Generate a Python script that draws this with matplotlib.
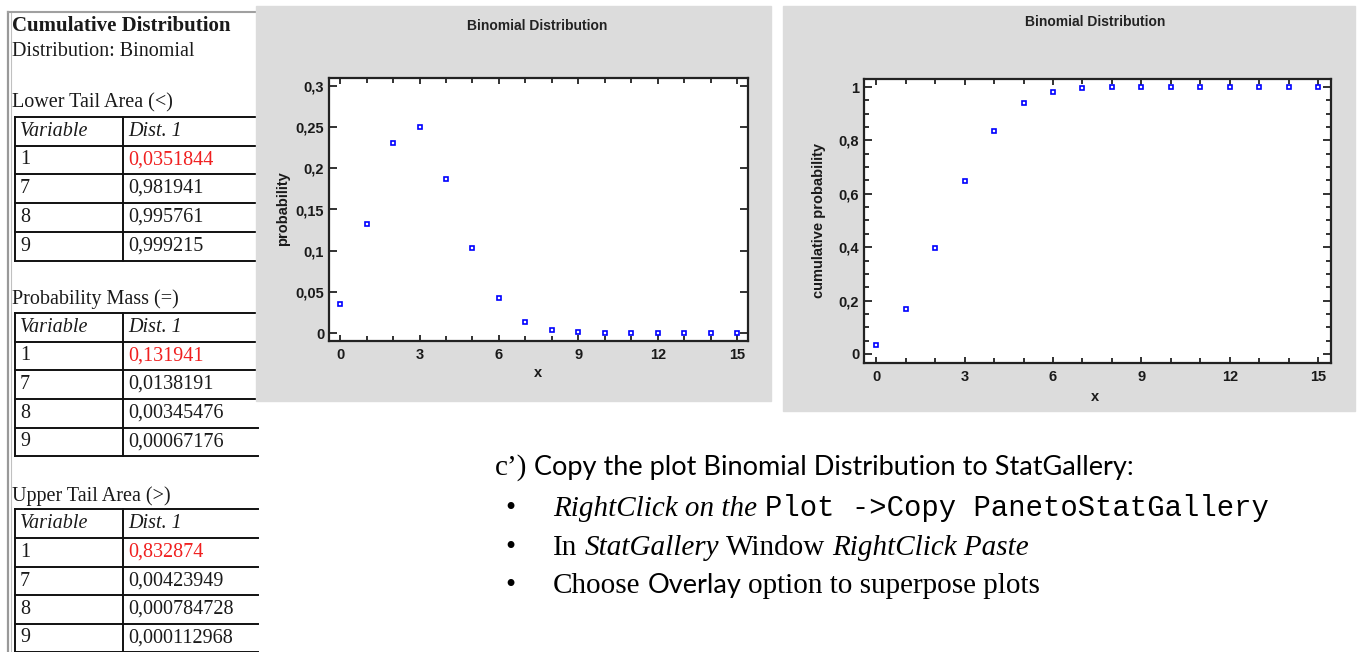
import matplotlib
matplotlib.use("Agg")
import matplotlib.pyplot as plt
from matplotlib.patches import Rectangle
from matplotlib.ticker import MultipleLocator, FuncFormatter

W, H = 1357, 652

# ---- data ----
x_vals = list(range(16))
pmf = [0.0352, 0.1319, 0.2309, 0.2501, 0.1876, 0.1032, 0.0430, 0.0138,
       0.0035, 0.0007, 0.0001, 0.0, 0.0, 0.0, 0.0, 0.0]
cdf = [0.0352, 0.1671, 0.3980, 0.6482, 0.8358, 0.9389, 0.9819, 0.9958,
       0.9992, 0.9999, 1.0, 1.0, 1.0, 1.0, 1.0, 1.0]

table_vars = ['1', '7', '8', '9']
lower_vals = ['0,0351844', '0,981941', '0,995761', '0,999215']
mass_vals = ['0,131941', '0,0138191', '0,00345476', '0,00067176']
upper_vals = ['0,832874', '0,00423949', '0,000784728', '0,000112968']

SERIF = 'Liberation Serif'
SANS = 'Liberation Sans'
MONO = 'Liberation Mono'
CALI = 'Lato'
PANEL = '#dcdcdc'

fig = plt.figure(figsize=(W / 100, H / 100), dpi=100)
ax0 = fig.add_axes([0, 0, 1, 1])
ax0.set_xlim(0, W)
ax0.set_ylim(H, 0)
ax0.axis('off')
ax0.set_zorder(0)


def px_axes(l, t, r, b):
    a = fig.add_axes([l / W, 1 - b / H, (r - l) / W, (b - t) / H])
    a.set_zorder(2)
    return a


def comma(v, pos):
    s = '{:g}'.format(round(v, 6))
    return s.replace('.', ',')


# ---- left frame with the tables ----
ax0.plot([8, 8], [12, H], color='#999999', lw=1.6)
ax0.plot([10.5, 10.5], [12, H], color='#c0c0c0', lw=0.8)
ax0.plot([8, 258], [12, 12], color='#a0a0a0', lw=1.5)

tc = '#1a1a1a'
ax0.text(12, 26, 'Cumulative Distribution', fontsize=15, fontweight='bold',
         family=SERIF, va='center', color=tc)
ax0.text(12, 52, 'Distribution: Binomial', fontsize=14.5, family=SERIF,
         va='center', color=tc)


def draw_table(label, label_y, lines, vals):
    ax0.text(12, label_y, label, fontsize=14.5, family=SERIF, va='center', color=tc)
    top, bot = lines[0], lines[-1]
    for y in lines:
        ax0.plot([15, 258], [y, y], color='#111111', lw=1.4)
    for x in (15, 123):
        ax0.plot([x, x], [top, bot], color='#111111', lw=1.4)
    cy = (lines[0] + lines[1]) / 2
    ax0.text(20, cy, 'Variable', fontsize=14.5, family=SERIF, style='italic',
             va='center', color=tc)
    ax0.text(128, cy, 'Dist. 1', fontsize=14.5, family=SERIF, style='italic',
             va='center', color=tc)
    for i, (v, val) in enumerate(zip(table_vars, vals)):
        cy = (lines[i + 1] + lines[i + 2]) / 2
        ax0.text(20, cy, v, fontsize=14.5, family=SERIF, va='center', color=tc)
        ax0.text(128, cy, val, fontsize=14.5, family=SERIF, va='center',
                 color='#f02020' if i == 0 else tc)


draw_table('Lower Tail Area (<)', 103, [117, 146, 174, 203, 232, 261], lower_vals)
draw_table('Probability Mass (=)', 299, [313, 342, 370, 399, 428, 456], mass_vals)
draw_table('Upper Tail Area (>)', 496, [509, 538, 567, 595, 624, 652], upper_vals)

# ---- gray plot panels ----
ax0.add_patch(Rectangle((256, 6), 515, 395, color=PANEL, zorder=3))
ax0.add_patch(Rectangle((783, 6), 572, 405, color=PANEL, zorder=3))


def style_axes(a):
    for s in a.spines.values():
        s.set_color('#222222')
        s.set_linewidth(1.6)
    a.tick_params(which='both', direction='in', top=True, right=True,
                  color='#222222', width=1.3)
    a.tick_params(axis='y', which='major', length=6, pad=3.5)
    a.tick_params(axis='x', which='major', length=4.5, pad=5)
    a.tick_params(which='minor', length=3.5)
    for lab in a.get_xticklabels() + a.get_yticklabels():
        lab.set_fontweight('bold')
        lab.set_family(SANS)
        lab.set_fontsize(10.5)
        lab.set_color('#1a1a1a')
    a.yaxis.set_major_formatter(FuncFormatter(comma))
    a.xaxis.set_major_locator(MultipleLocator(3))
    a.xaxis.set_minor_locator(MultipleLocator(1))


lab_kw = dict(fontsize=10.5, fontweight='bold', family=SANS, color='#1a1a1a',
              ha='center', va='center', zorder=4)
mk = dict(ls='none', marker='s', ms=3.0, mfc='white', mec='#0000ff', mew=1.2)

# left plot: probability mass
ax1 = px_axes(329, 78, 748, 341)
ax1.plot(x_vals, pmf, **mk)
ax1.set_xlim(-0.42, 15.41)
ax1.set_ylim(-0.0097, 0.3097)
ax1.yaxis.set_major_locator(MultipleLocator(0.05))
style_axes(ax1)
ax0.text(537, 26, 'Binomial Distribution', fontsize=10, fontweight='bold',
         family=SANS, color='#222222', ha='center', va='center', zorder=4)
ax0.text(283, 209, 'probability', rotation=90, **lab_kw)
ax0.text(538, 373, 'x', **lab_kw)

# right plot: cumulative probability
ax2 = px_axes(864, 79, 1331, 363)
ax2.plot(x_vals, cdf, **mk)
ax2.set_xlim(-0.42, 15.44)
ax2.set_ylim(-0.034, 1.030)
ax2.yaxis.set_major_locator(MultipleLocator(0.2))
ax2.yaxis.set_minor_locator(MultipleLocator(0.05))
style_axes(ax2)
ax0.text(1095, 22, 'Binomial Distribution', fontsize=10, fontweight='bold',
         family=SANS, color='#222222', ha='center', va='center', zorder=4)
ax0.text(819, 221, 'cumulative probability', rotation=90, **lab_kw)
ax0.text(1095, 397, 'x', **lab_kw)

# ---- instruction text with mixed fonts ----
renderer = fig.canvas.get_renderer()
TS = 21


def rich_line(x, y, pieces):
    for txt, kw in pieces:
        if isinstance(txt, (int, float)):
            x += txt
            continue
        t = ax0.text(x, y, txt, ha='left', va='baseline', color='black', **kw)
        x += t.get_window_extent(renderer=renderer).width


times = dict(family=SERIF, fontsize=TS)
times_i = dict(family=SERIF, fontsize=TS, style='italic')
cali = dict(family=CALI, fontsize=19.5)
mono = dict(family=MONO, fontsize=20.8)

rich_line(495, 475, [('c\u2019)', times), (7, None),
                     ('Copy the plot Binomial Distribution to StatGallery:', cali)])
for by in (516, 555, 593):
    ax0.text(505, by, '\u2022', ha='left', va='baseline', **times)
rich_line(553, 516, [('RightClick on the', times_i), (8, None),
                     ('Plot ->Copy PanetoStatGallery', mono)])
rich_line(553, 555, [('In', times), (7, None), ('StatGallery', times_i), (7, None),
                     ('Window', times), (7, None), ('RightClick Paste', times_i)])
rich_line(553, 593, [('Choose', times), (7, None), ('Overlay', cali), (7, None),
                     ('option to superpose plots', times)])

fig.savefig('out.png', dpi=100)
